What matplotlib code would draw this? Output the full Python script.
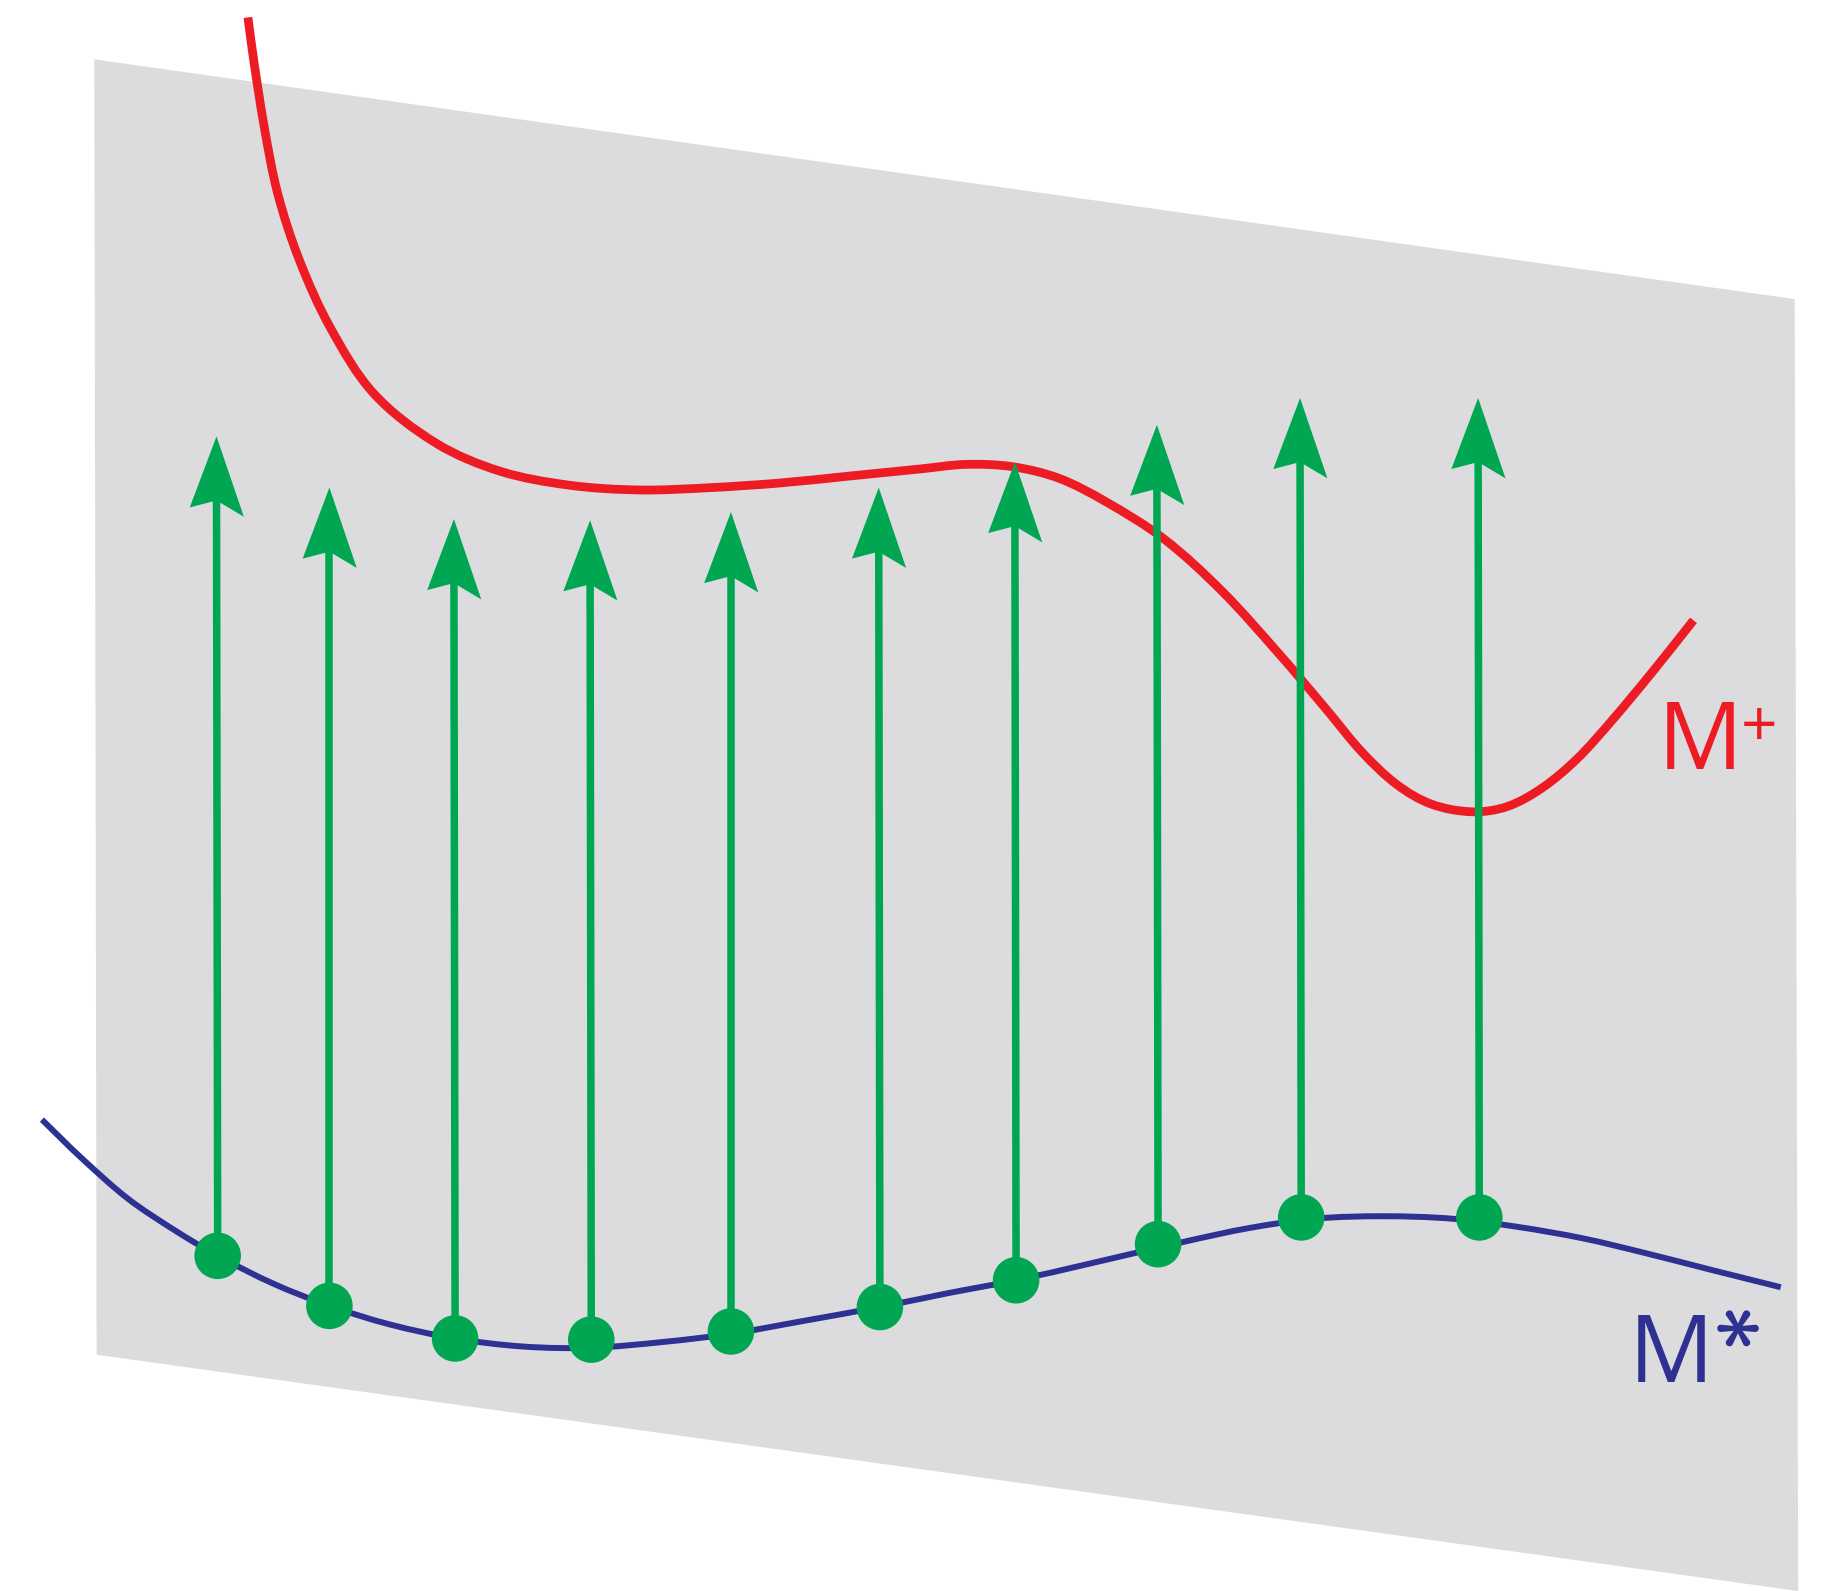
import numpy as np
import matplotlib
matplotlib.use("Agg")
import matplotlib.pyplot as plt
import matplotlib.patheffects as pe
from matplotlib.patches import Polygon, Circle, PathPatch
from matplotlib.path import Path

# -------------------------------
# Data (in picture units, 1568 x 1367, y pointing down)
# -------------------------------
plane_x = [81, 1542, 1545, 83]
plane_y = [51, 257, 1367, 1164]

# M+ curve (red)
red_x = [213, 218, 227, 238.5, 257, 283.5, 321, 375, 430, 490, 550, 610, 670, 730, 790,
         830, 870, 910, 950, 1000, 1050, 1100, 1140, 1170, 1200, 1230, 1265, 1295, 1325,
         1355, 1385, 1420, 1455]
red_y = [15, 52, 109, 166, 223, 281, 338, 381, 405, 417, 421, 419, 415, 409, 403,
         399, 401, 411, 431, 463, 508, 563, 610, 646, 674, 691, 697.5, 693, 677,
         652, 619, 577, 533]

# M* curve (blue)
blue_x = [36, 70, 110, 150, 187, 235, 283, 335, 391, 450, 508, 570, 628, 690, 756,
          815, 873, 935, 1017, 1074, 1131, 1188, 1246, 1303, 1360, 1415, 1470, 1530]
blue_y = [962, 995, 1030, 1057, 1079, 1103, 1122, 1138, 1150, 1157, 1158, 1153, 1146, 1135, 1123,
          1111, 1100, 1086, 1067, 1055, 1047, 1045, 1047, 1054, 1064, 1077, 1091, 1106]

# arrow bases (dots on M*) and arrow tips
base_x = [187, 283, 391, 508, 628, 756, 873, 995, 1118, 1271]
base_y = [1079, 1122, 1150, 1151, 1144, 1123, 1100, 1069, 1046, 1046]
tip_x = [186, 283, 390, 507, 628, 755, 872, 994, 1117, 1270]
tip_y = [375, 419, 446, 447, 440, 419, 397, 365, 342, 342]

RED = "#ED1C24"
BLUE = "#2E3192"
GREEN = "#00A651"
GRAY = "#DCDCDE"


def smooth_path(xs, ys):
    # chord-length Catmull-Rom through the points, drawn as cubic Bezier segments
    p = np.column_stack([xs, ys]).astype(float)
    d = np.hypot(*np.diff(p, axis=0).T)
    n = len(p)
    m = np.zeros_like(p)
    for i in range(n):
        if i == 0:
            m[i] = (p[1] - p[0]) / d[0]
        elif i == n - 1:
            m[i] = (p[-1] - p[-2]) / d[-1]
        else:
            m[i] = (p[i + 1] - p[i - 1]) / (d[i - 1] + d[i])
    verts = [p[0]]
    codes = [Path.MOVETO]
    for i in range(n - 1):
        verts += [p[i] + m[i] * d[i] / 3, p[i + 1] - m[i + 1] * d[i] / 3, p[i + 1]]
        codes += [Path.CURVE4] * 3
    return Path(verts, codes)


fig = plt.figure(figsize=(18.25, 15.91), dpi=100)
ax = fig.add_axes([0, 0, 1, 1])
ax.set_xlim(0, 1568)
ax.set_ylim(1367, 0)
ax.set_aspect("equal")
ax.axis("off")

# grey plane
ax.add_patch(Polygon(list(zip(plane_x, plane_y)), closed=True, facecolor=GRAY, edgecolor="none", zorder=0))

# curves
ax.add_patch(PathPatch(smooth_path(blue_x, blue_y), facecolor="none", edgecolor=BLUE,
                       lw=4.3, capstyle="butt", zorder=2))
ax.add_patch(PathPatch(smooth_path(red_x, red_y), facecolor="none", edgecolor=RED,
                       lw=6.3, capstyle="butt", zorder=3))

# arrows
for bx, by, tx, ty in zip(base_x, base_y, tip_x, tip_y):
    ax.plot([bx, tx], [by, ty + 50], color=GREEN, lw=5.4, solid_capstyle="butt", zorder=4)
    head = [(tx, ty), (tx + 23.5, ty + 69), (tx, ty + 55), (tx - 23, ty + 61)]
    ax.add_patch(Polygon(head, closed=True, facecolor=GREEN, edgecolor="none", zorder=5))
    ax.add_patch(Circle((bx, by), 20, facecolor=GREEN, edgecolor="none", zorder=6))

# labels
ax.text(1424, 661, "M", color=RED, fontsize=68, family="Open Sans", ha="left", va="baseline")
ax.text(1511, 641, "+", color=RED, fontsize=46, family="Open Sans",
        ha="center", va="baseline")
ax.text(1399, 1187, "M", color=BLUE, fontsize=68, family="Open Sans", ha="left", va="baseline")
ax.text(1491, 1143, r"$\ast$", color=BLUE, fontsize=66, math_fontfamily="cm", rotation=90,
        rotation_mode="anchor", ha="center", va="center",
        path_effects=[pe.withStroke(linewidth=1.5, foreground=BLUE)])

plt.savefig("out.png", dpi=100)
